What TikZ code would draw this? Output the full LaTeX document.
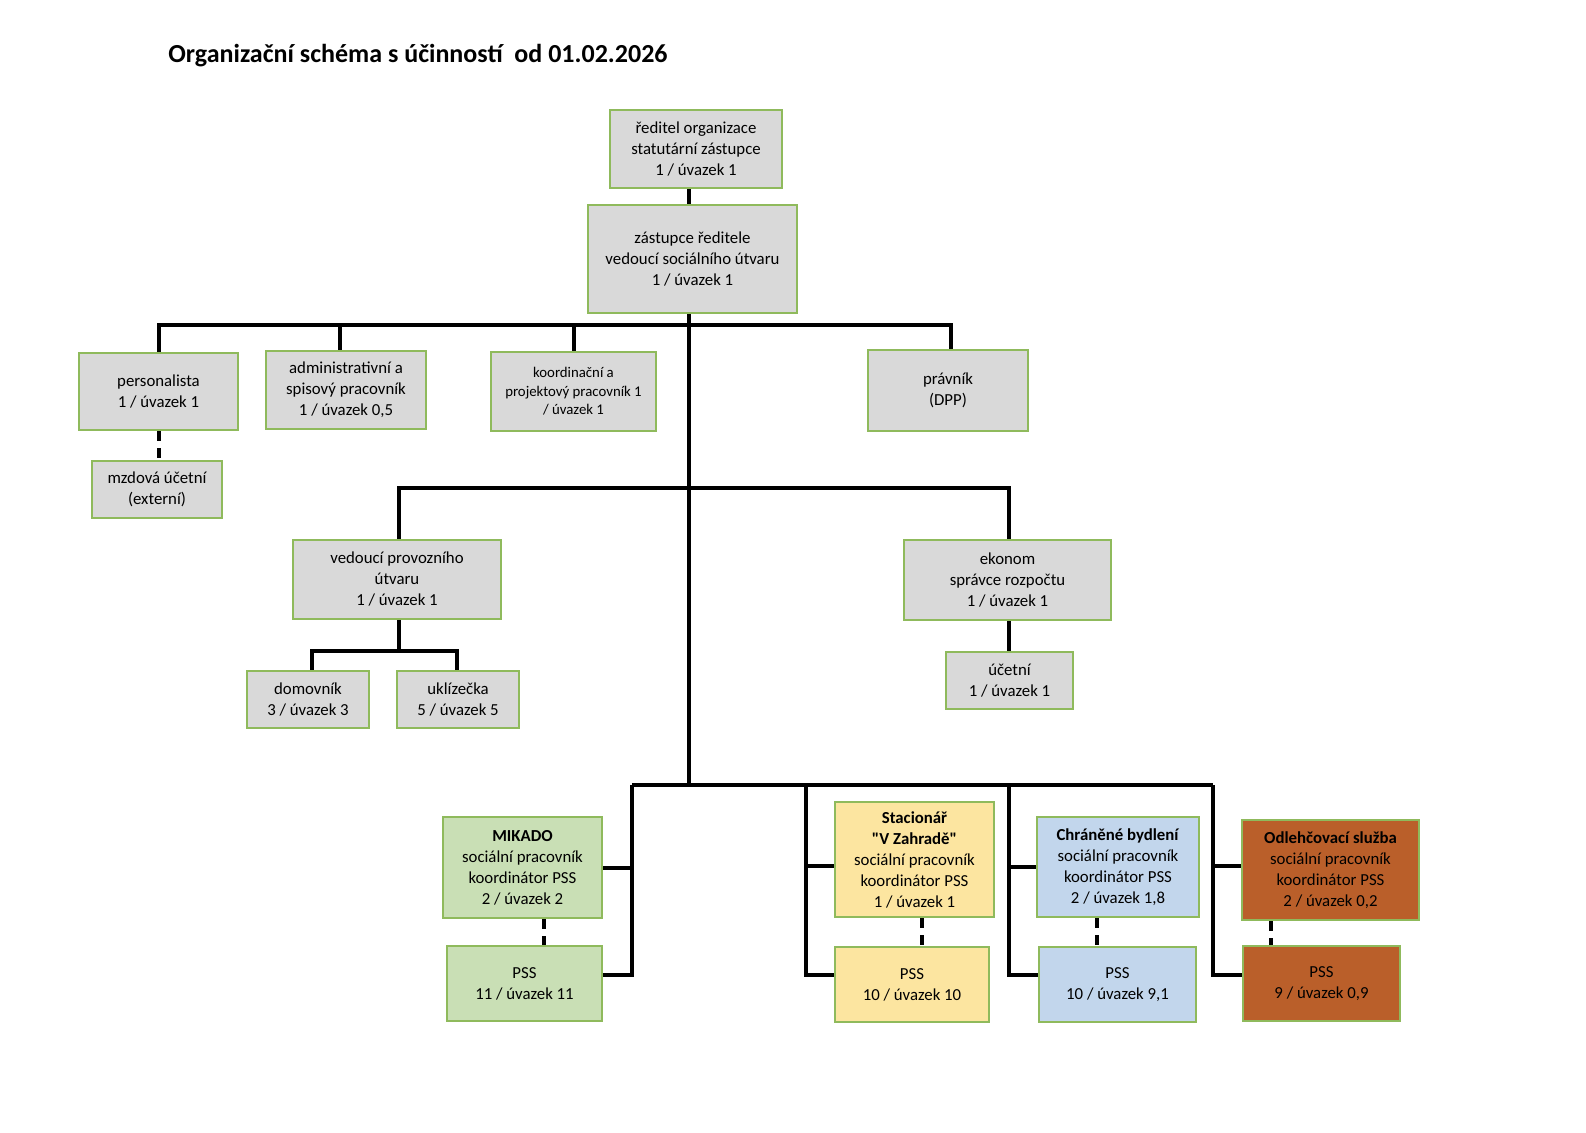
\documentclass[tikz,border=0pt]{standalone}
\usepackage{fontspec}
\setmainfont{Carlito}
\newfontfamily\plainq{Carlito}[Ligatures=TeXOff]
\usetikzlibrary{calc}
\definecolor{boxgray}{HTML}{D9D9D9}
\definecolor{boxline}{HTML}{8FBA5C}
\definecolor{mikfill}{HTML}{C9DFB5}
\definecolor{stacfill}{HTML}{FCE5A0}
\definecolor{cbfill}{HTML}{C2D6EC}
\definecolor{osfill}{HTML}{BA5F2A}
\tikzset{
  box/.style={draw=boxline, fill=boxgray, line width=1.1pt, align=center, inner sep=0pt,
    font=\fontsize{8.4}{10.5}\selectfont},
  smallbox/.style={font=\fontsize{7.4}{9.3}\selectfont},
  sz/.style 2 args={minimum width=#1*0.5pt, minimum height=#2*0.5pt},
  conn/.style={draw=black, line width=2pt, line join=miter},
  dconn/.style={draw=black, line width=2pt, dash pattern=on 5pt off 3.5pt}}
\begin{document}
\begin{tikzpicture}[x=0.5pt,y=-0.5pt]
\useasboundingbox (0,0) rectangle (1586,1132);
\node[anchor=west, inner sep=0pt, font=\bfseries\fontsize{13}{16}\selectfont] (title) at (168,56) {Organizační schéma s účinností\ \ od 01.02.2026};

\node[box, sz={172}{78}] (red) at (696,149) {ředitel organizace\\statutární zástupce\\1 / úvazek 1};
\node[box, sz={209}{108}] (zast) at (692.5,259) {zástupce ředitele\\vedoucí sociálního útvaru\\1 / úvazek 1};
\node[box, sz={159}{77}] (pers) at (158.5,391.5) {personalista\\1 / úvazek 1};
\node[box, sz={160}{78}] (adm) at (346,390) {administrativní a\\spisový pracovník\\1 / úvazek 0,5};
\node[box, smallbox, sz={165}{79}] (koo) at (573.5,391.5) {koordinační a\\projektový pracovník 1\\/ úvazek 1};
\node[box, sz={160}{81}] (prav) at (948,390.5) {právník\\(DPP)};
\node[box, sz={130}{57}] (mzd) at (157,489.5) {mzdová účetní\\(externí)};
\node[box, sz={208}{79}] (vpu) at (397,579.5) {vedoucí provozního\\útvaru\\1 / úvazek 1};
\node[box, sz={207}{80}] (eko) at (1007.5,580) {ekonom\\správce rozpočtu\\1 / úvazek 1};
\node[box, sz={127}{57}] (uce) at (1009.5,680.5) {účetní\\1 / úvazek 1};
\node[box, sz={122}{57}] (dom) at (308,699.5) {domovník\\3 / úvazek 3};
\node[box, sz={122}{57}] (ukl) at (458,699.5) {uklízečka\\5 / úvazek 5};

\node[box, fill=mikfill, sz={159}{101}] (mik) at (522.5,867.5) {\textbf{MIKADO}\\sociální pracovník\\koordinátor PSS\\2 / úvazek 2};
\node[box, fill=mikfill, sz={155}{75}] (pssm) at (524.5,983.5) {PSS\\11 / úvazek 11};
\node[box, fill=stacfill, sz={159}{115}] (stac) at (914.5,859.5) {\textbf{Stacionář}\\\textbf{\plainq "V Zahradě"}\\sociální pracovník\\koordinátor PSS\\1 / úvazek 1};
\node[box, fill=stacfill, sz={154}{75}] (psss) at (912,984.5) {PSS\\10 / úvazek 10};
\node[box, fill=cbfill, sz={162}{100}] (cb) at (1118,867) {\textbf{Chráněné bydlení}\\sociální pracovník\\koordinátor PSS\\2 / úvazek 1,8};
\node[box, fill=cbfill, sz={157}{75}] (pssc) at (1117.5,984.5) {PSS\\10 / úvazek 9,1};
\node[box, fill=osfill, sz={177}{100}] (os) at (1330.5,870) {\textbf{Odlehčovací služba}\\sociální pracovník\\koordinátor PSS\\2 / úvazek 0,2};
\node[box, fill=osfill, sz={157}{75}] (psso) at (1321.5,983.5) {PSS\\9 / úvazek 0,9};

% junctions
\coordinate (jt) at (689,325);
\coordinate (jm) at (689,488);
\coordinate (jb) at (689,785);
\coordinate (jv) at (399,651);
\coordinate (bL) at (632,785);
\coordinate (b2) at (806,785);
\coordinate (b3) at (1009,785);
\coordinate (bR) at (1213,785);

% top
\draw[conn] (red.south -| jt) -- (zast.north -| jt);
\draw[conn] (zast.south -| jt) -- (jb);
\draw[conn] (pers.north) |- (jt);
\draw[conn] (jt) -| ($(prav.north)+(3,0)$);
\draw[conn] ($(adm.north)+(-6,0)$) coordinate (a1) -- (a1 |- jt);
\draw[conn] (koo.north) -- (koo.north |- jt);
\draw[dconn] (pers.south) -- (pers.south |- mzd.north);

% middle
\draw[conn] ($(vpu.north)+(2,0)$) |- (jm) -| ($(eko.north)+(1.5,0)$);
\draw[conn] ($(eko.south)+(1.5,0)$) coordinate (e1) -- (e1 |- uce.north);
\draw[conn] ($(vpu.south)+(2,0)$) -- (jv);
\draw[conn] ($(dom.north)+(4,0)$) |- (jv) -| ($(ukl.north)+(-1,0)$);

% bottom
\draw[conn] (bL) -- (bR);
\draw[conn] (mik.east) -| (bL);
\draw[conn] ($(pssm.east)+(0,-8.5)$) -| (bL);
\draw[conn] ($(stac.west)+(0,6.5)$) -| (b2);
\draw[conn] ($(psss.west)+(0,-9.5)$) -| (b2);
\draw[conn] (cb.west) -| (b3);
\draw[conn] ($(pssc.west)+(0,-9.5)$) -| (b3);
\draw[conn] ($(os.west)+(0,-4)$) -| (bR);
\draw[conn] ($(psso.west)+(0,-8.5)$) -| (bR);

\draw[dconn] ($(mik.south)+(21.5,0)$) coordinate (m1) -- (m1 |- pssm.north);
\draw[dconn] ($(stac.south)+(7.5,0)$) coordinate (s1) -- (s1 |- psss.north);
\draw[dconn] ($(cb.south)+(-21,0)$) coordinate (c1) -- (c1 |- pssc.north);
\draw[dconn] ($(os.south)+(-59.5,0)$) coordinate (o1) -- (o1 |- psso.north);
\end{tikzpicture}
\end{document}
